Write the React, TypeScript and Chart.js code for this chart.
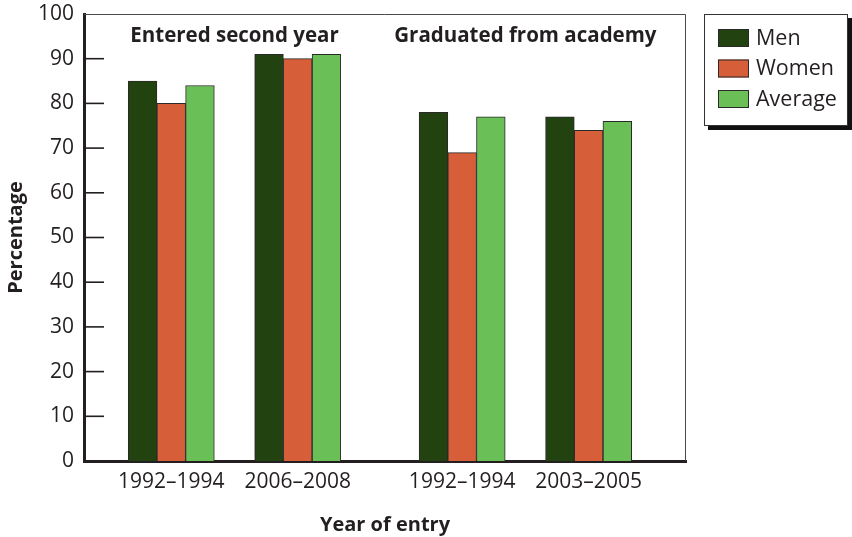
import { useEffect, useRef } from "react";
import { Chart, registerables } from "chart.js";

Chart.register(...registerables);

const categories = ["1992–1994", "2006–2008", "1992–1994", "2003–2005"];
const categoryPositions = [0, 1, 2.3, 3.3];
const groupTitles = ["Entered second year", "Graduated from academy"];
const seriesNames = ["Men", "Women", "Average"];
const menValues = [85, 91, 78, 77];
const womenValues = [80, 90, 69, 74];
const averageValues = [84, 91, 77, 76];
const yTickStep = 10;

const FONT = '"Open Sans", "Noto Sans", sans-serif';
const TEXT = "#231f20";
const COLORS = ["#22420f", "#d65f3a", "#6bbf57"];

const decorPlugin = {
  id: "decor",
  afterDatasetsDraw(chart: any) {
    const { ctx, chartArea: a, scales } = chart;
    const y = scales.y;
    ctx.save();
    ctx.strokeStyle = "#4a4a4a";
    ctx.lineWidth = 1;
    ctx.beginPath();
    ctx.moveTo(a.left, a.top + 0.5);
    ctx.lineTo(a.right - 0.5, a.top + 0.5);
    ctx.lineTo(a.right - 0.5, a.bottom);
    ctx.stroke();
    ctx.strokeStyle = TEXT;
    ctx.lineWidth = 1.6;
    for (let v = yTickStep; v < 100; v += yTickStep) {
      const py = y.getPixelForValue(v);
      ctx.beginPath();
      ctx.moveTo(a.left, py);
      ctx.lineTo(a.left + 20, py);
      ctx.stroke();
    }
    ctx.restore();
  },
  afterDraw(chart: any) {
    const { ctx, chartArea: a, scales } = chart;
    const x = scales.x;
    const y = scales.y;
    ctx.save();
    ctx.fillStyle = TEXT;
    ctx.font = `bold 20.5px ${FONT}`;
    ctx.textAlign = "center";
    ctx.textBaseline = "middle";
    for (let g = 0; g < groupTitles.length; g++) {
      const cx = (x.getPixelForValue(categoryPositions[g * 2]) + x.getPixelForValue(categoryPositions[g * 2 + 1])) / 2;
      ctx.fillText(groupTitles[g], cx, y.getPixelForValue(95));
    }
    const lx = a.right + 18;
    const ly = a.top;
    const lw = 144;
    const lh = 112;
    ctx.fillStyle = "#111";
    ctx.fillRect(lx + 4, ly + 4, lw, lh);
    ctx.fillStyle = "#fff";
    ctx.fillRect(lx, ly, lw, lh);
    ctx.strokeStyle = "#333";
    ctx.lineWidth = 1;
    ctx.strokeRect(lx + 0.5, ly + 0.5, lw - 1, lh - 1);
    ctx.textAlign = "left";
    ctx.font = `21.5px ${FONT}`;
    chart.data.datasets.forEach((ds: any, i: number) => {
      const sy = ly + 15 + i * 30.5;
      ctx.fillStyle = ds.backgroundColor;
      ctx.fillRect(lx + 14, sy, 31, 18);
      ctx.strokeStyle = "#2a2a2a";
      ctx.strokeRect(lx + 14.5, sy + 0.5, 30, 17);
      ctx.fillStyle = TEXT;
      ctx.fillText(ds.label, lx + 52, sy + 9.5);
    });
    ctx.restore();
  },
};

export default function App() {
  const ref = useRef<HTMLCanvasElement>(null);
  useEffect(() => {
    document.body.style.margin = "0";
    const canvas = ref.current!;
    const values = [menValues, womenValues, averageValues];
    const chart = new Chart(canvas, {
      type: "bar",
      data: {
        datasets: seriesNames.map((name, s) => ({
          label: name,
          data: categoryPositions.map((p, i) => ({ x: p, y: values[s][i] })),
          backgroundColor: COLORS[s],
          borderColor: "#2a2a2a",
          borderWidth: 1,
          barThickness: 28.7,
        })),
      } as any,
      options: {
        responsive: false,
        animation: false,
        layout: { padding: { left: 4, top: 14, right: 166, bottom: 0 } },
        plugins: { legend: { display: false }, tooltip: { enabled: false } },
        scales: {
          x: {
            type: "linear",
            min: -0.69,
            max: 4.07,
            offset: false,
            bounds: "data",
            afterBuildTicks: (s: any) => {
              s.ticks = categoryPositions.map((v) => ({ value: v }));
            },
            afterFit: (s: any) => {
              s.height = 76;
              s.paddingLeft = 0;
              s.paddingRight = 0;
            },
            ticks: {
              callback: (_v: any, i: number) => categories[i] ?? "",
              font: { family: FONT, size: 21 },
              color: TEXT,
              padding: 8,
              maxRotation: 0,
              autoSkip: false,
            },
            grid: { display: false, drawTicks: false },
            border: { display: true, color: TEXT, width: 3 },
            title: {
              display: true,
              text: "Year of entry",
              font: { family: FONT, size: 20, weight: "bold" },
              color: TEXT,
              padding: 0,
            },
          },
          y: {
            min: 0,
            max: 100,
            afterFit: (s: any) => {
              s.width = 80;
              s.paddingTop = 0;
              s.paddingBottom = 0;
            },
            ticks: {
              stepSize: yTickStep,
              font: { family: FONT, size: 21 },
              color: TEXT,
              padding: 10,
            },
            grid: { display: false, drawTicks: false },
            border: { display: true, color: TEXT, width: 3 },
            title: {
              display: true,
              text: "Percentage",
              font: { family: FONT, size: 20, weight: "bold" },
              color: TEXT,
              padding: 0,
            },
          },
        },
      } as any,
      plugins: [decorPlugin],
    });
    return () => chart.destroy();
  }, []);
  return (
    <div style={{ width: 852, height: 537 }}>
      <canvas ref={ref} width={852} height={537} />
    </div>
  );
}
